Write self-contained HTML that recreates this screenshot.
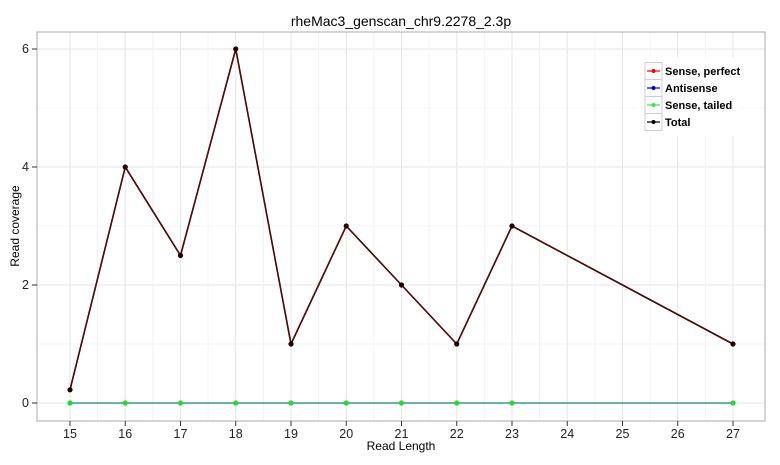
<!DOCTYPE html><html><head><style>body{margin:0;background:#fff}</style></head><body>
<svg width="780" height="460" xmlns="http://www.w3.org/2000/svg" font-family="Liberation Sans, sans-serif">
<rect width="780" height="460" fill="#fff"/>
<text x="401" y="26" font-size="14" text-anchor="middle">rheMac3_genscan_chr9.2278_2.3p</text>
<g stroke="#f0f0f0" stroke-width="0.8">
<line x1="37" x2="765" y1="108" y2="108"/><line x1="37" x2="765" y1="226" y2="226"/><line x1="37" x2="765" y1="344" y2="344"/>
</g>
<g stroke="#e6e6e6" stroke-width="1">
<line x1="37" x2="765" y1="49" y2="49"/><line x1="37" x2="765" y1="167" y2="167"/><line x1="37" x2="765" y1="285" y2="285"/><line x1="37" x2="765" y1="403" y2="403"/>
</g>
<g id="vg"></g>
<rect x="37" y="32" width="728" height="389" fill="none" stroke="#aaa" stroke-width="1"/>
<g font-size="12.5" fill="#222" text-anchor="end">
<text x="29" y="53">6</text><text x="29" y="171">4</text><text x="29" y="289">2</text><text x="29" y="407">0</text>
</g>
<g stroke="#333"><line x1="32" x2="37" y1="49" y2="49"/><line x1="32" x2="37" y1="167" y2="167"/><line x1="32" x2="37" y1="285" y2="285"/><line x1="32" x2="37" y1="403" y2="403"/></g>
<g id="xt" font-size="12.5" fill="#222" text-anchor="middle"></g>
<text x="401" y="450" font-size="12" text-anchor="middle">Read Length</text>
<text transform="translate(19,226) rotate(-90)" font-size="12" text-anchor="middle">Read coverage</text>
<polyline fill="none" stroke="#000" stroke-width="1.6" points="70,389.8 125.25,167 180.5,255.5 235.75,49 291,344 346.25,226 401.5,285 456.75,344 512,226 733,344"/>
<polyline fill="none" stroke="#8b0000" stroke-width="0.8" points="70,389.8 125.25,167 180.5,255.5 235.75,49 291,344 346.25,226 401.5,285 456.75,344 512,226 733,344"/>
<g fill="#200">
<circle cx="70" cy="389.8" r="2.6"/><circle cx="125.25" cy="167" r="2.6"/><circle cx="180.5" cy="255.5" r="2.6"/><circle cx="235.75" cy="49" r="2.6"/><circle cx="291" cy="344" r="2.6"/><circle cx="346.25" cy="226" r="2.6"/><circle cx="401.5" cy="285" r="2.6"/><circle cx="456.75" cy="344" r="2.6"/><circle cx="512" cy="226" r="2.6"/><circle cx="733" cy="344" r="2.6"/>
</g>
<line x1="70" x2="733" y1="403" y2="403" stroke="#3a9a8a" stroke-width="1.5"/>
<g fill="#22dd22">
<circle cx="70" cy="403" r="2.6"/><circle cx="125.25" cy="403" r="2.6"/><circle cx="180.5" cy="403" r="2.6"/><circle cx="235.75" cy="403" r="2.6"/><circle cx="291" cy="403" r="2.6"/><circle cx="346.25" cy="403" r="2.6"/><circle cx="401.5" cy="403" r="2.6"/><circle cx="456.75" cy="403" r="2.6"/><circle cx="512" cy="403" r="2.6"/><circle cx="733" cy="403" r="2.6"/>
</g>
<g transform="translate(0,1.5)">
<rect x="638" y="56" width="104" height="78" fill="#fff"/>
<g stroke="#ccc" fill="#fff"><rect x="645" y="61" width="17" height="17"/><rect x="645" y="78" width="17" height="17"/><rect x="645" y="95" width="17" height="17"/><rect x="645" y="112" width="17" height="17"/></g>
<g stroke-width="1.2"><line x1="647" x2="660" y1="69.5" y2="69.5" stroke="red"/><line x1="647" x2="660" y1="86.5" y2="86.5" stroke="blue"/><line x1="647" x2="660" y1="103.5" y2="103.5" stroke="#33ee33"/><line x1="647" x2="660" y1="120.5" y2="120.5" stroke="#000"/></g>
<circle cx="653.5" cy="69.5" r="2" fill="red"/><circle cx="653.5" cy="86.5" r="2" fill="blue"/><circle cx="653.5" cy="103.5" r="2" fill="#33ee33"/><circle cx="653.5" cy="120.5" r="2" fill="#000"/>
<g font-size="11" font-weight="bold"><text x="665" y="73.5">Sense, perfect</text><text x="665" y="90.5">Antisense</text><text x="665" y="107.5">Sense, tailed</text><text x="665" y="124.5">Total</text></g>
</g>
<script>
var ns='http://www.w3.org/2000/svg';
var vg=document.getElementById('vg'),xt=document.getElementById('xt');
for(var i=15;i<=27;i++){var x=70+(i-15)*55.25;
var l=document.createElementNS(ns,'line');l.setAttribute('x1',x);l.setAttribute('x2',x);l.setAttribute('y1',32);l.setAttribute('y2',421);l.setAttribute('stroke','#e6e6e6');vg.appendChild(l);
if(i<27){var m=document.createElementNS(ns,'line');m.setAttribute('x1',x+27.6);m.setAttribute('x2',x+27.6);m.setAttribute('y1',32);m.setAttribute('y2',421);m.setAttribute('stroke','#f2f2f2');vg.appendChild(m);}
var k=document.createElementNS(ns,'line');k.setAttribute('x1',x);k.setAttribute('x2',x);k.setAttribute('y1',421);k.setAttribute('y2',426);k.setAttribute('stroke','#333');xt.appendChild(k);
var tx=document.createElementNS(ns,'text');tx.setAttribute('x',x);tx.setAttribute('y',438);tx.textContent=i;xt.appendChild(tx);}
</script>
</svg></body></html>
